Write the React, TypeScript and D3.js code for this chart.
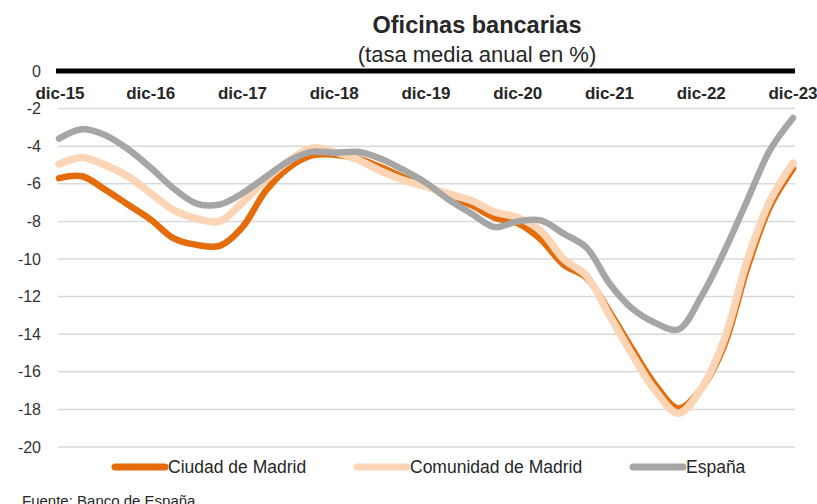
import React from "react";
import * as d3 from "d3";

const W = 817;
const H = 504;

// quarterly points, dic-15 .. dic-23
const yearLabels = ["dic-15", "dic-16", "dic-17", "dic-18", "dic-19", "dic-20", "dic-21", "dic-22", "dic-23"];
const yTicks = [0, -2, -4, -6, -8, -10, -12, -14, -16, -18, -20];

const ciudad = [-5.7, -5.6, -6.3, -7.1, -7.9, -8.9, -9.25, -9.3, -8.3, -6.4, -5.15, -4.5, -4.45, -4.65, -5.1, -5.65, -6.1,
  -6.65, -7.15, -7.8, -8.1, -8.95, -10.3, -11.0, -12.8, -14.8, -16.7, -17.95, -16.9, -14.6, -10.5, -7.2, -5.2];
const comunidad = [-4.95, -4.6, -5.0, -5.6, -6.5, -7.4, -7.85, -8.0, -7.0, -5.8, -4.8, -4.1, -4.3, -4.7, -5.3, -5.8, -6.15,
  -6.55, -6.9, -7.5, -7.8, -8.5, -10.0, -10.9, -13.0, -15.1, -17.0, -18.2, -16.9, -14.3, -10.1, -6.9, -4.9];
const espana = [-3.6, -3.1, -3.4, -4.15, -5.15, -6.25, -7.05, -7.1, -6.5, -5.65, -4.8, -4.3, -4.35, -4.3, -4.65, -5.25, -5.95,
  -6.85, -7.6, -8.3, -8.0, -7.95, -8.65, -9.4, -11.3, -12.65, -13.4, -13.75, -12.0, -9.6, -6.9, -4.2, -2.5];

const series = [
  { name: "Ciudad de Madrid", values: ciudad, color: "#e46c0a", width: 6.5 },
  { name: "Comunidad de Madrid", values: comunidad, color: "#fbd5b5", width: 7.5 },
  { name: "España", values: espana, color: "#a6a6a6", width: 6.5 },
];

const PLOT = { left: 59, right: 793, top: 71, bottom: 447 };
const FONT = "'Liberation Sans', Arial, sans-serif";

const App = () => {
  const x = d3.scaleLinear().domain([0, ciudad.length - 1]).range([PLOT.left, PLOT.right]);
  const y = d3.scaleLinear().domain([0, -20]).range([PLOT.top, PLOT.bottom]);

  const line = d3
    .line<number>()
    .x((_, i) => x(i))
    .y((d) => y(d))
    .curve(d3.curveCatmullRom.alpha(0.5));

  const legendX = [115, 357, 633];

  return (
    <svg
      width={W}
      height={H}
      style={{ position: "absolute", left: 0, top: 0, background: "#fff" }}
      fontFamily={FONT}
    >
      {/* titles */}
      <text x={477} y={33} textAnchor="middle" fontSize={23.5} fontWeight="bold" fill="#262626">
        Oficinas bancarias
      </text>
      <text x={477} y={62} textAnchor="middle" fontSize={22} fill="#262626">
        (tasa media anual en %)
      </text>

      {/* grid */}
      {yTicks.filter((t) => t !== 0).map((t) => (
        <line key={t} x1={58} x2={795} y1={y(t)} y2={y(t)} stroke="#d9d9d9" strokeWidth={1.5} />
      ))}
      {yTicks.map((t) => (
        <text key={"l" + t} x={41} y={y(t)} dy="0.35em" textAnchor="end" fontSize={16} fill="#333">
          {t}
        </text>
      ))}

      {/* lines */}
      {series.map((s) => (
        <path
          key={s.name}
          d={line(s.values) || ""}
          fill="none"
          stroke={s.color}
          strokeWidth={s.width}
          strokeLinecap="round"
          strokeLinejoin="round"
        />
      ))}

      {/* zero axis */}
      <line x1={56} x2={795} y1={y(0)} y2={y(0)} stroke="#000" strokeWidth={5} />
      {yearLabels.map((lab, k) => (
        <text key={lab} x={Math.max(x(k * 4), 60)} y={99} textAnchor="middle" fontSize={17} fontWeight="bold" fill="#262626">
          {lab}
        </text>
      ))}

      {/* legend */}
      {series.map((s, i) => (
        <g key={"lg" + s.name} transform={`translate(${legendX[i]},467)`}>
          <line x1={0} x2={50} y1={0} y2={0} stroke={s.color} strokeWidth={7} strokeLinecap="round" />
          <text x={53} y={6} fontSize={17.5} fill="#262626">
            {s.name}
          </text>
        </g>
      ))}

      <text x={22} y={506} fontSize={15} fill="#262626">
        Fuente: Banco de España
      </text>
    </svg>
  );
};

export default App;
